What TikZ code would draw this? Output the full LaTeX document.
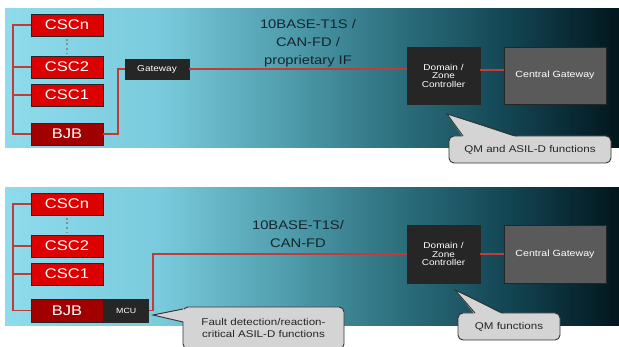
\documentclass[tikz,border=0pt]{standalone}
\usepackage{fontspec}
\setmainfont[FakeStretch=1.18]{Liberation Sans}
\usetikzlibrary{calc}

\definecolor{sh0}{HTML}{8EDBEB}
\definecolor{sh1}{HTML}{7ACBDD}
\definecolor{sh2}{HTML}{519FAF}
\definecolor{sh3}{HTML}{2B6D7B}
\definecolor{sh4}{HTML}{134553}
\definecolor{sh5}{HTML}{02161D}
\definecolor{cscred}{HTML}{DD0000}
\definecolor{bjbred}{HTML}{A00000}
\definecolor{wire}{HTML}{C23B3B}
\definecolor{ecudark}{HTML}{262626}
\definecolor{cgwgrey}{HTML}{5A5A5A}
\definecolor{notefill}{HTML}{D4D4D4}
\definecolor{labeltext}{HTML}{14262C}

% the filled path spans the 25bp..75bp part of the shading
\pgfdeclarehorizontalshading{panelshade}{100bp}{%
  color(0bp)=(sh0); color(25bp)=(sh0); color(37.5bp)=(sh1); color(47.5bp)=(sh2);
  color(57.5bp)=(sh3); color(66bp)=(sh4); color(75bp)=(sh5); color(100bp)=(sh5)}

\tikzset{
  panel/.style={shading=panelshade, draw=none},
  ecubox/.style={draw=black!85, line width=0.8pt, inner sep=0pt, align=center},
  cscbox/.style={ecubox, fill=cscred, text=white, font=\fontsize{14}{16}\selectfont,
                 minimum width=72pt, minimum height=22pt},
  bjbbox/.style={cscbox, fill=bjbred},
  gwbox/.style={ecubox, fill=ecudark, text=white!88, font=\fontsize{8.5}{10}\selectfont,
                minimum width=64pt, minimum height=20pt},
  mcubox/.style={ecubox, fill=ecudark, text=white!88, font=\fontsize{7.5}{9}\selectfont,
                 minimum width=45pt, minimum height=23pt},
  zonebox/.style={ecubox, fill=ecudark, text=white, font=\fontsize{8.5}{10}\selectfont,
                  minimum width=73pt, minimum height=57pt},
  cgwbox/.style={ecubox, fill=cgwgrey, text=white, font=\fontsize{9}{11}\selectfont,
                 minimum width=102pt, minimum height=57pt},
  wireline/.style={draw=wire, line width=1.1pt},
  dotsline/.style={draw=black!45, line width=2.2pt, dash pattern=on 2pt off 2.6pt},
  buslabel/.style={text=labeltext, align=center, font=\fontsize{12.5}{18}\selectfont},
  notebox/.style={draw=black!80, fill=notefill, line width=0.9pt, rounded corners=5pt},
  noteedge/.style={draw=black!80, line width=0.9pt, line join=miter},
  notetext/.style={text=black!85, align=center, font=\fontsize{9.8}{12}\selectfont},
}

\begin{document}
\begin{tikzpicture}[x=1pt, y=-1pt]
  \useasboundingbox (0,0) rectangle (619,347);
  \fill[white] (0,0) rectangle (619,347);

  % ---------- upper panel ----------
  \path[panel] (5,9) rectangle (619,147.5);

  \node[cscbox] (cscnA) at (67,25) {CSCn};
  \node[cscbox] (csc2A) at (67,67) {CSC2};
  \node[cscbox] (csc1A) at (67,95) {CSC1};
  \node[bjbbox] (bjbA)  at (67,134) {BJB};
  \draw[dotsline] (cscnA.south) ++(0,2.5) -- ($(csc2A.north)+(0,-2.5)$);

  \node[gwbox] (gwA) at (157,69) {Gateway};
  \node[zonebox] (zoneA) at (443.5,75.5) {Domain /\\[-1.5pt]Zone\\[-1.5pt]Controller};
  \node[cgwbox] (cgwA) at (555,75.5) {Central Gateway};

  \coordinate (busA) at (13,0);
  \draw[wireline] (cscnA.west) -| (busA |- bjbA.west) -- (bjbA.west);
  \draw[wireline] (csc2A.west) -- (busA |- csc2A.west);
  \draw[wireline] (csc1A.west) -- (busA |- csc1A.west);
  \coordinate (riseA) at (118,0);
  \draw[wireline] (bjbA.east) -- (riseA |- bjbA.east) |- (gwA.west);
  \draw[wireline] (gwA.east) -- (gwA.east -| zoneA.west);
  \draw[wireline] (zoneA.east |- 0,70) -- (cgwA.west |- 0,70);

  \node[buslabel] (busnameA) at (308,43) {10BASE-T1S /\\CAN-FD /\\proprietary IF};

  % note below the zone controller
  \coordinate (tipA) at (447,114);
  \node[notebox, minimum width=162pt, minimum height=27pt, inner sep=0pt] (noteA) at (530,149.5) {};
  \fill[notefill] (tipA) -- (463,137.5) -- (517,137.5) -- cycle;
  \draw[noteedge] (463,136) -- (tipA) -- (517,136);
  \node[notetext] (noteAtext) at (noteA.center) {QM and ASIL-D functions};

  % ---------- lower panel ----------
  \path[panel] (5,188) rectangle (619,325.5);

  \node[cscbox] (cscnB) at (67,204) {CSCn};
  \node[cscbox] (csc2B) at (67,246) {CSC2};
  \node[cscbox] (csc1B) at (67,274) {CSC1};
  \node[bjbbox, minimum height=23pt] (bjbB) at (67,310.5) {BJB};
  \node[mcubox, anchor=west] (mcuB) at (bjbB.east) {MCU};
  \draw[dotsline] (cscnB.south) ++(0,2.5) -- ($(csc2B.north)+(0,-2.5)$);

  \node[zonebox, minimum height=58pt] (zoneB) at (443.5,254) {Domain /\\[-1.5pt]Zone\\[-1.5pt]Controller};
  \node[cgwbox, minimum height=58pt] (cgwB) at (555,254) {Central Gateway};

  \coordinate (busB) at (13,0);
  \draw[wireline] (cscnB.west) -| (busB |- bjbB.west) -- (bjbB.west);
  \draw[wireline] (csc2B.west) -- (busB |- csc2B.west);
  \draw[wireline] (csc1B.west) -- (busB |- csc1B.west);
  \coordinate (riseB) at (153,0);
  \draw[wireline] (mcuB.east) -- (riseB |- mcuB.east) |- (zoneB.west);
  \draw[wireline] (zoneB.east) -- (cgwB.west);

  \node[buslabel] (busnameB) at (298,234) {10BASE-T1S/\\CAN-FD};

  % note beside the MCU
  \coordinate (tipB) at (153,315);
  \node[notebox, minimum width=161pt, minimum height=42pt, inner sep=0pt] (noteB) at (263.5,328) {};
  \fill[notefill] (tipB) -- (184.5,309) -- (184.5,322) -- cycle;
  \draw[noteedge] (183,309) -- (tipB) -- (183,322);
  \node[notetext] (noteBtext) at (263.5,328) {Fault detection/reaction-\\critical ASIL-D functions};

  % note below the lower zone controller
  \coordinate (tipC) at (455,290);
  \node[notebox, minimum width=102pt, minimum height=27pt, inner sep=0pt] (noteC) at (509,326.5) {};
  \fill[notefill] (tipC) -- (475,314.5) -- (503,314.5) -- cycle;
  \draw[noteedge] (475,313) -- (tipC) -- (503,313);
  \node[notetext] (noteCtext) at (noteC.center) {QM functions};
\end{tikzpicture}
\end{document}
